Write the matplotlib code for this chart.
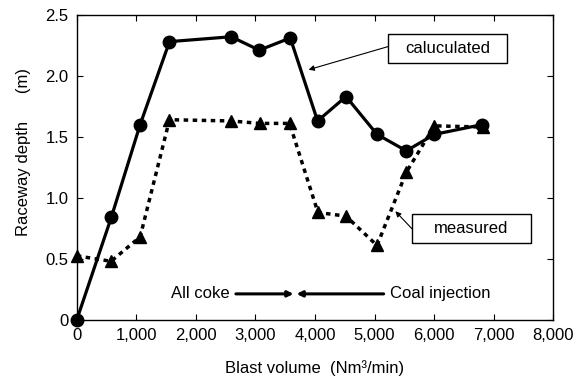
import matplotlib
matplotlib.use('Agg')
import matplotlib.pyplot as plt
from matplotlib.patches import Rectangle
from matplotlib.ticker import FuncFormatter

plt.rcParams['font.family'] = ['Liberation Sans', 'DejaVu Sans']

# data
blast_calc = [0, 580, 1064, 1557, 2593, 3064, 3585, 4044, 4521, 5042, 5534, 6005, 6807]
depth_calc = [0.0, 0.84, 1.60, 2.28, 2.32, 2.21, 2.31, 1.63, 1.83, 1.52, 1.385, 1.52, 1.60]

blast_meas = [0, 576, 1064, 1557, 2593, 3070, 3573, 4050, 4521, 5042, 5534, 6005, 6815]
depth_meas = [0.525, 0.48, 0.68, 1.64, 1.63, 1.61, 1.61, 0.88, 0.85, 0.61, 1.21, 1.59, 1.58]

xticks = [0, 1000, 2000, 3000, 4000, 5000, 6000, 7000, 8000]
yticks = [0, 0.5, 1.0, 1.5, 2.0, 2.5]

fs = 12

fig = plt.figure(figsize=(5.86, 3.79), dpi=100)
ax = fig.add_axes([0.131, 0.156, 0.813, 0.805])

ax.plot(blast_calc, depth_calc, color='k', lw=2.3, marker='o', ms=9, clip_on=False, zorder=3)
ax.plot(blast_meas, depth_meas, color='k', lw=2.5, ls=(0, (1.3, 1.3)), marker='^', ms=9,
        clip_on=False, zorder=3)

ax.set_xlim(0, 8000)
ax.set_ylim(0, 2.5)
ax.set_xticks(xticks)
ax.set_yticks(yticks)
ax.xaxis.set_major_formatter(FuncFormatter(lambda v, p: f'{int(v):,}'))
ax.yaxis.set_major_formatter(FuncFormatter(lambda v, p: '0' if v == 0 else f'{v:.1f}'))
ax.tick_params(direction='in', top=True, right=True, labelsize=fs, length=4, pad=6)
for s in ax.spines.values():
    s.set_linewidth(1.0)

ax.set_xlabel('Blast volume  (Nm\u00b3/min)', fontsize=fs, labelpad=12)
ax.set_ylabel('Raceway depth      (m)', fontsize=fs)
ax.yaxis.set_label_coords(-0.097, 0.55)

# label boxes
ax.add_patch(Rectangle((5232, 2.107), 2000, 0.237, fc='white', ec='k', lw=1, zorder=4))
ax.text(6232, 2.225, 'caluculated', fontsize=fs, ha='center', va='center', zorder=5)
ax.annotate('', xy=(3893, 2.05), xytext=(5232, 2.24),
            arrowprops=dict(arrowstyle='-|>', color='k', lw=0.8, mutation_scale=8,
                            shrinkA=0, shrinkB=0))

ax.add_patch(Rectangle((5630, 0.629), 2000, 0.24, fc='white', ec='k', lw=1, zorder=4))
ax.text(6630, 0.749, 'measured', fontsize=fs, ha='center', va='center', zorder=5)
ax.annotate('', xy=(5350, 0.89), xytext=(5630, 0.746),
            arrowprops=dict(arrowstyle='-|>', color='k', lw=0.8, mutation_scale=8,
                            shrinkA=0, shrinkB=0))

ax.text(2563, 0.213, 'All coke', fontsize=fs, ha='right', va='center')
ax.annotate('', xy=(3640, 0.213), xytext=(2672, 0.213),
            arrowprops=dict(arrowstyle='-|>', color='k', lw=2.2, mutation_scale=8,
                            shrinkA=0, shrinkB=0))
ax.annotate('', xy=(3690, 0.213), xytext=(5153, 0.213),
            arrowprops=dict(arrowstyle='-|>', color='k', lw=2.2, mutation_scale=8,
                            shrinkA=0, shrinkB=0))
ax.text(5266, 0.213, 'Coal injection', fontsize=fs, ha='left', va='center')

fig.savefig('out.png', dpi=100)
